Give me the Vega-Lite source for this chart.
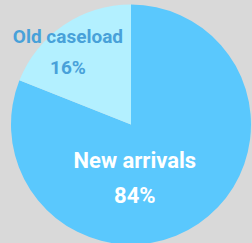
{
  "$schema": "https://vega.github.io/schema/vega-lite/v6.json",
  "autosize": {"type": "none"},
  "width": 240,
  "height": 239,
  "padding": {"left": 11, "top": 5, "right": 1, "bottom": 0},
  "background": "#d9d9d9",
  "view": {"stroke": null},
  "data": {
    "values": [
      {"group": "New arrivals", "value": 81, "label": "New arrivals\n84%", "order": 1},
      {"group": "Old caseload", "value": 19, "label": "Old caseload\n16%", "order": 2}
    ]
  },
  "encoding": {
    "theta": {"field": "value", "type": "quantitative", "stack": true},
    "order": {"field": "order", "type": "quantitative"}
  },
  "layer": [
    {
      "mark": {"type": "arc", "outerRadius": 120, "strokeWidth": 0},
      "encoding": {
        "color": {
          "field": "group",
          "type": "nominal",
          "scale": {"domain": ["New arrivals", "Old caseload"], "range": ["#5ac8fd", "#b3f0ff"]},
          "legend": null
        }
      }
    },
    {
      "mark": {"type": "text", "radius": 53, "dx": -26, "font": "Roboto", "fontWeight": "bold", "fontSize": 22, "lineHeight": 35, "lineBreak": "\n", "color": "#ffffff", "align": "center", "baseline": "alphabetic"},
      "encoding": {"text": {"condition": {"test": "datum.group === 'New arrivals'", "field": "label"}, "value": ""}}
    },
    {
      "mark": {"type": "text", "radius": 98, "dx": -8, "font": "Roboto", "fontWeight": "bold", "fontSize": 19, "lineHeight": 31, "lineBreak": "\n", "color": "#48a1d9", "align": "center", "baseline": "alphabetic"},
      "encoding": {"text": {"condition": {"test": "datum.group === 'Old caseload'", "field": "label"}, "value": ""}}
    }
  ]
}
